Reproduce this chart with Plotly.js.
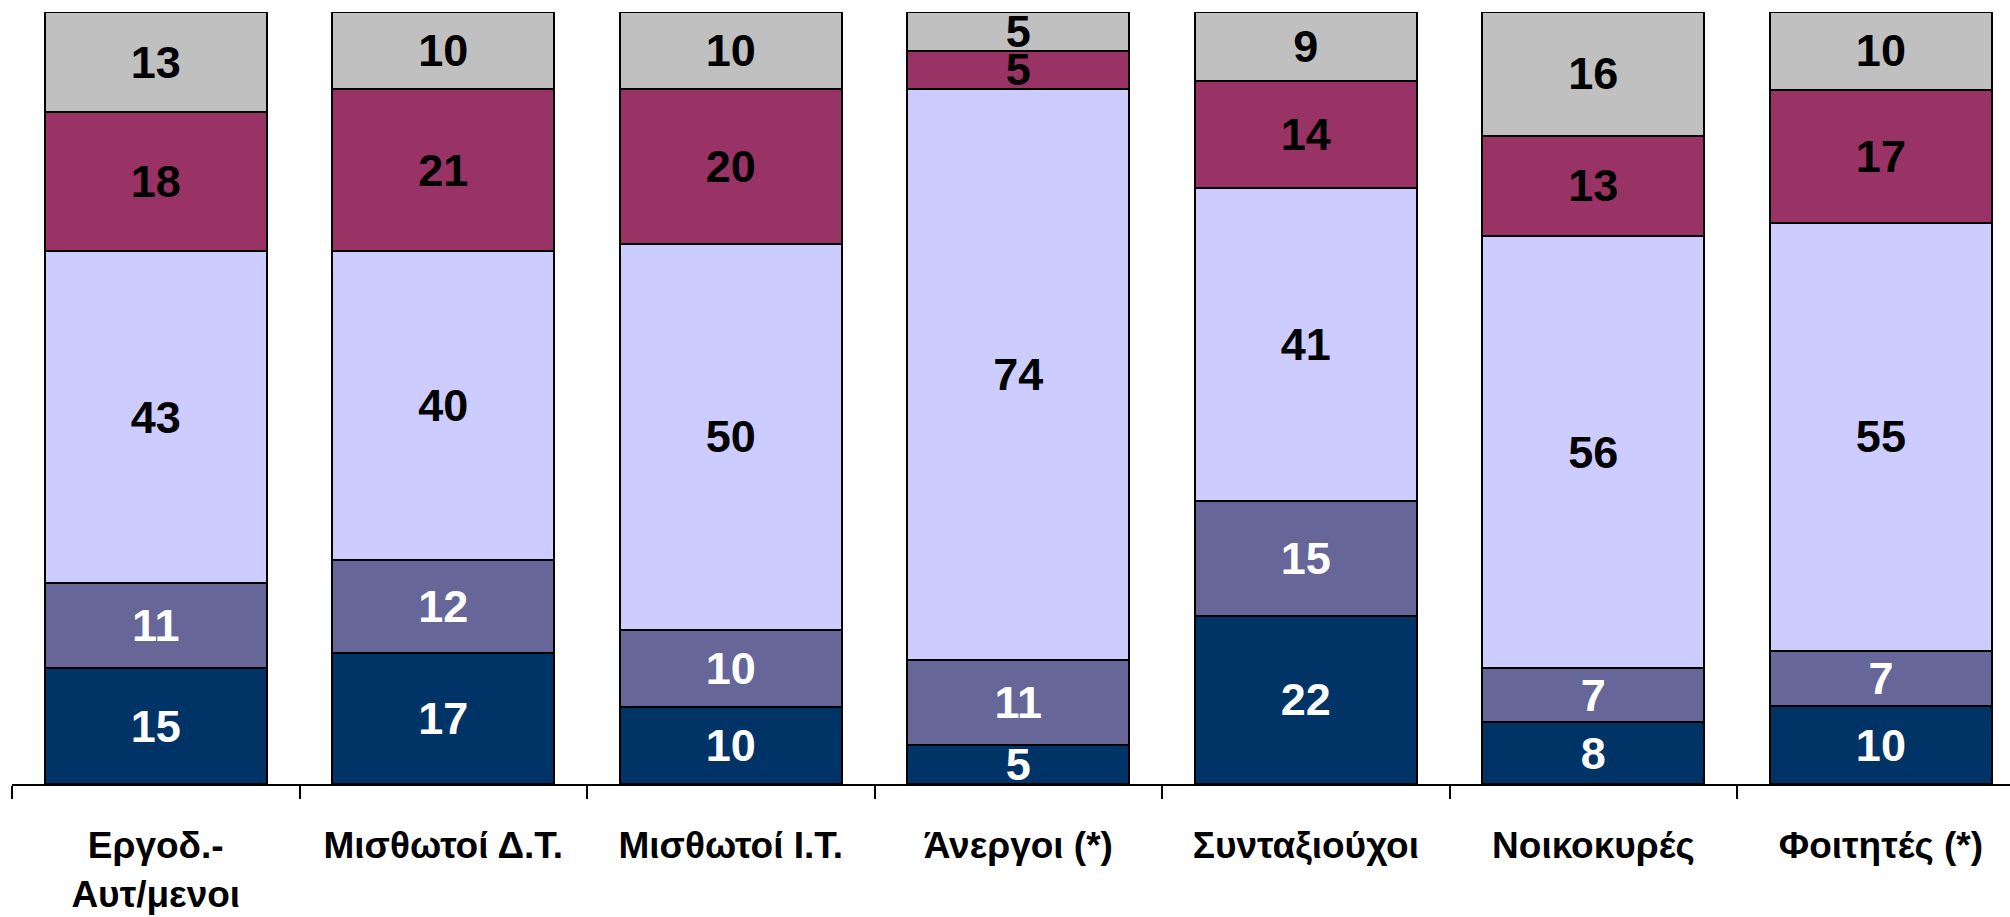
<!DOCTYPE html>
<html>
<head>
<meta charset="utf-8">
<script src="https://cdn.plot.ly/plotly-3.0.1.min.js"></script>
<style>html,body{margin:0;padding:0;background:#fff;}#chart{width:2010px;height:917px;}</style>
</head>
<body>
<div id="chart"></div>
<script>
const categories = ["Εργοδ.-<br>Αυτ/μενοι", "Μισθωτοί Δ.Τ.", "Μισθωτοί Ι.Τ.", "Άνεργοι (*)", "Συνταξιούχοι", "Νοικοκυρές", "Φοιτητές (*)"];
const series1 = [15, 17, 10, 5, 22, 8, 10];
const series2 = [11, 12, 10, 11, 15, 7, 7];
const series3 = [43, 40, 50, 74, 41, 56, 55];
const series4 = [18, 21, 20, 5, 14, 13, 17];
const series5 = [13, 10, 10, 5, 9, 16, 10];

const colors = ["#003366", "#666699", "#CCCCFF", "#993366", "#C0C0C0"];
const textColors = ["#ffffff", "#ffffff", "#000000", "#000000", "#000000"];
const FONT = "'Liberation Sans Narrow', 'Arial Narrow', 'Liberation Sans', Arial, sans-serif";

const all = [series1, series2, series3, series4, series5];
const traces = all.map((vals, i) => ({
  type: 'bar',
  x: categories,
  y: vals,
  text: vals.map(String),
  texttemplate: '%{text}',
  textposition: 'inside',
  insidetextanchor: 'middle',
  textangle: 0,
  constraintext: 'none',
  textfont: {family: FONT, size: 45, color: textColors[i], weight: 'bold'},
  marker: {color: colors[i], line: {color: '#000000', width: 2}},
  hoverinfo: 'skip',
  showlegend: false
}));

const layout = {
  width: 2010,
  height: 917,
  margin: {l: 12, r: 0, t: 12, b: 133},
  barmode: 'stack',
  barnorm: 'percent',
  bargap: 0.228,
  paper_bgcolor: '#ffffff',
  plot_bgcolor: '#ffffff',
  uniformtext: {mode: 'show', minsize: 45},
  font: {family: FONT, color: '#000000'},
  xaxis: {
    type: 'category',
    range: [-0.5, 6.449],
    showline: true,
    linecolor: '#000000',
    linewidth: 2,
    ticks: 'outside',
    tickson: 'boundaries',
    ticklen: 13,
    tickwidth: 2,
    tickcolor: '#000000',
    showgrid: false,
    zeroline: false,
    tickfont: {family: FONT, size: 37, color: '#000000', weight: 'bold'},
    ticklabelstandoff: 28,
    fixedrange: true
  },
  yaxis: {
    range: [0, 100],
    visible: false,
    showgrid: false,
    zeroline: false,
    fixedrange: true
  }
};

Plotly.newPlot('chart', traces, layout, {displayModeBar: false, staticPlot: true});
</script>
</body>
</html>
